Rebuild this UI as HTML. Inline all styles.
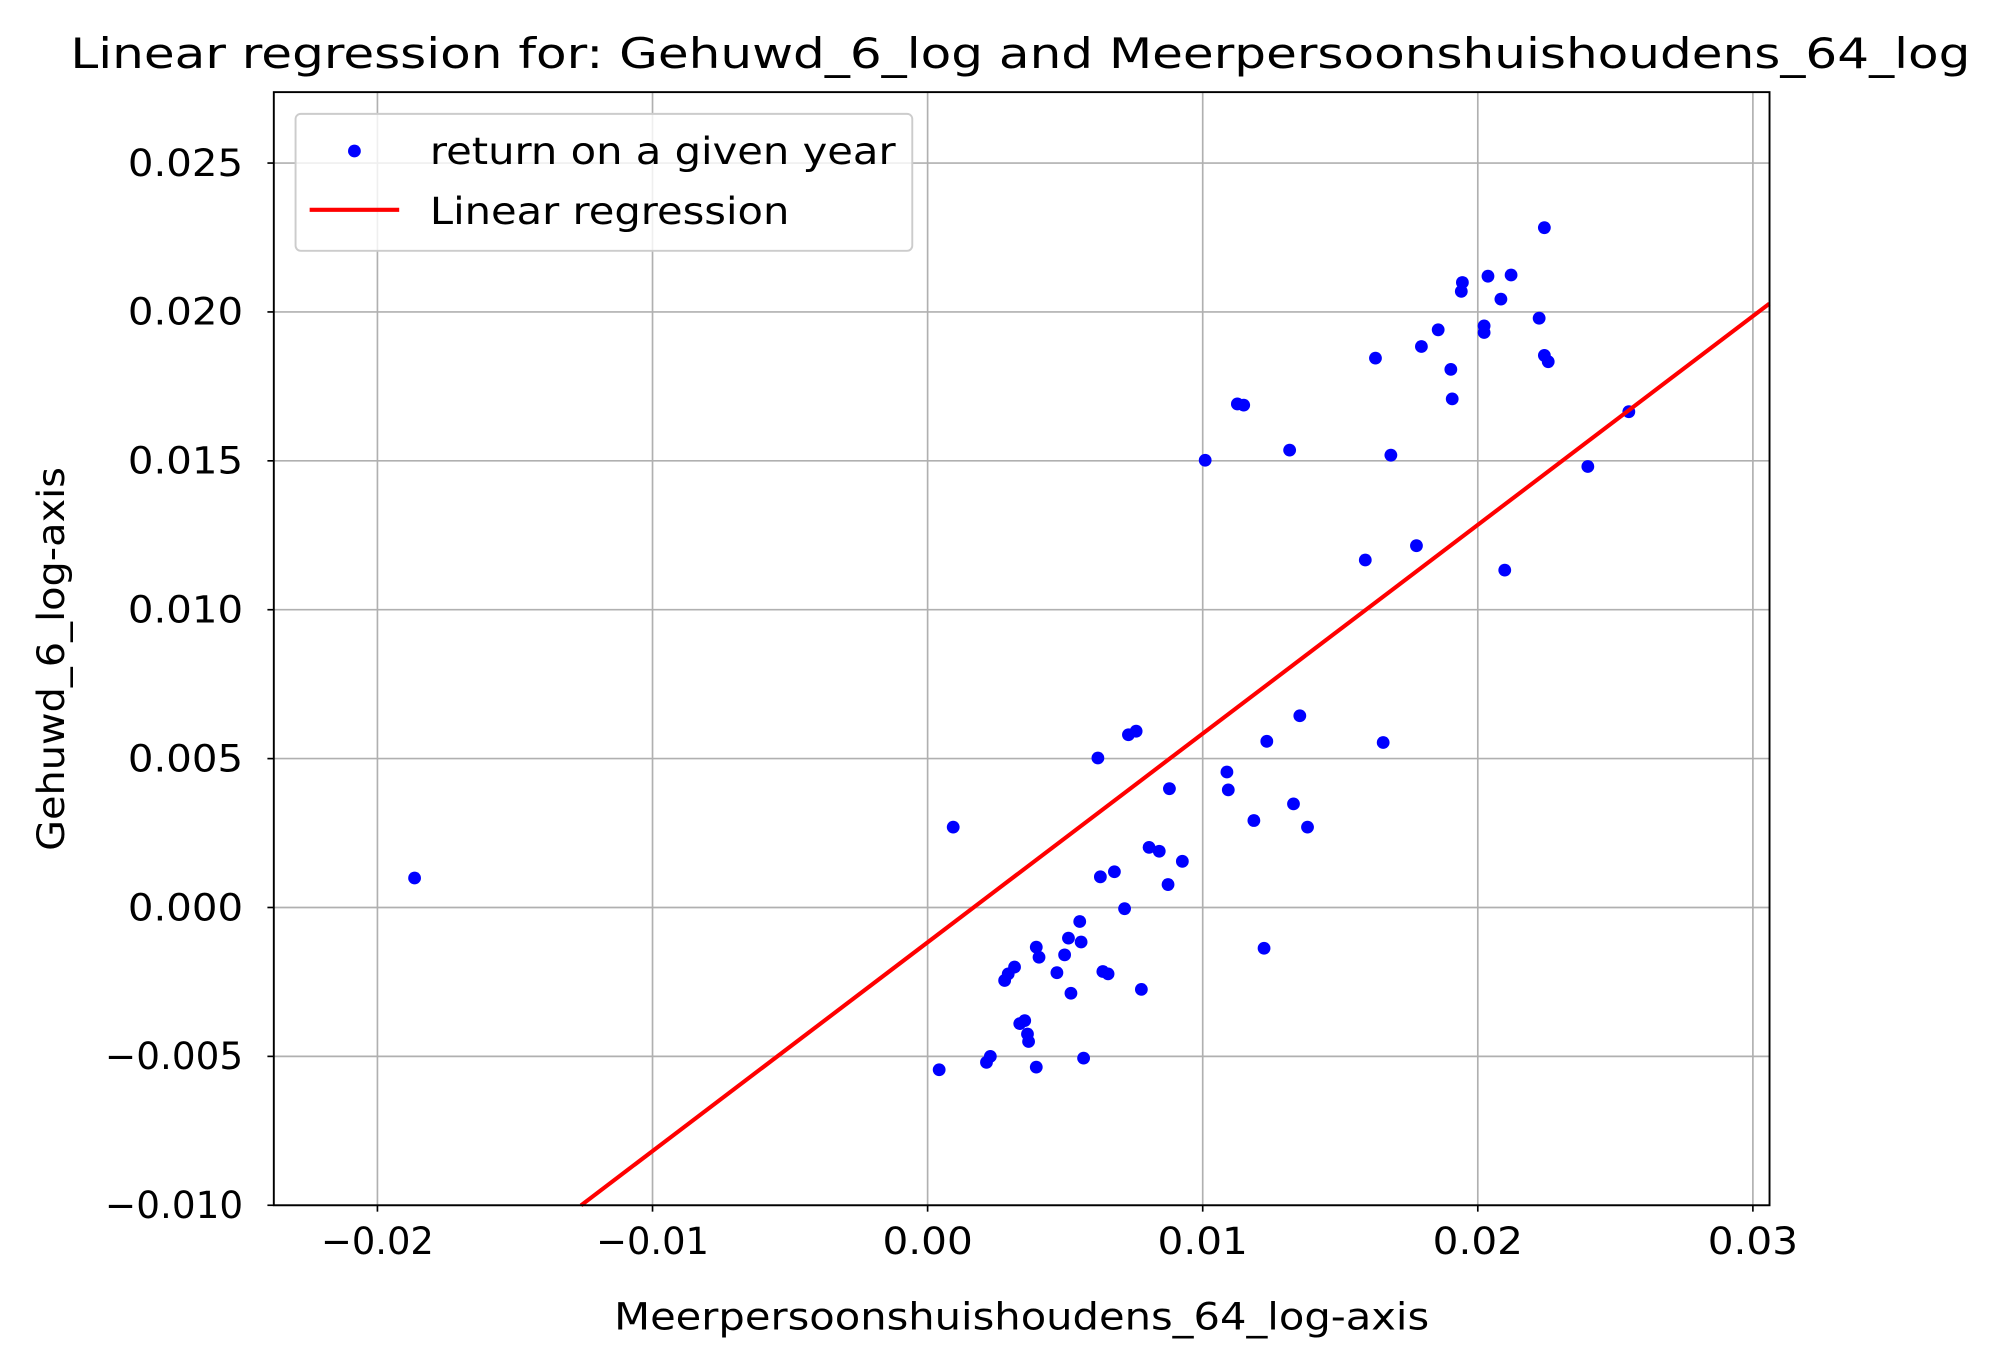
<!DOCTYPE html>
<html><head><meta charset="utf-8"><style>
html,body{margin:0;padding:0;background:#fff;}
svg{display:block;font-family:"DejaVu Sans","Liberation Sans",sans-serif;}
</style></head><body>
<svg id="chart" width="1996" height="1362" viewBox="0 0 1560 1064.5" preserveAspectRatio="none" xmlns="http://www.w3.org/2000/svg">
<rect x="0" y="0" width="1560" height="1064.5" fill="#fff"/>
<g id="grid"></g>
<g id="pts"></g>
<g id="reg"></g>
<rect x="214" y="72" width="1169" height="870" fill="none" stroke="#000" stroke-width="1.5"/>
<g id="ticks"></g>
<text x="55" y="53" font-size="33" textLength="1485" lengthAdjust="spacingAndGlyphs">Linear regression for: Gehuwd_6_log and Meerpersoonshuishoudens_64_log</text>
<text x="480" y="1039" font-size="29" textLength="637" lengthAdjust="spacingAndGlyphs">Meerpersoonshuishoudens_64_log-axis</text>
<text transform="translate(50,665) rotate(-90)" font-size="29" textLength="300" lengthAdjust="spacingAndGlyphs">Gehuwd_6_log-axis</text>
<g>
<rect x="231" y="89" width="482" height="107" rx="4" fill="#fff" fill-opacity="0.8" stroke="#ccc" stroke-width="1.5"/>
<circle cx="277" cy="118" r="5" fill="#0000ff"/>
<text x="336" y="128" font-size="29" textLength="364" lengthAdjust="spacingAndGlyphs">return on a given year</text>
<line x1="242" y1="164" x2="312" y2="164" stroke="#ff0000" stroke-width="3.2"/>
<text x="336" y="175" font-size="29" textLength="281" lengthAdjust="spacingAndGlyphs">Linear regression</text>
</g>
</svg>
<script>
const xs = [-0.01865,0.00093,0.00042,0.00214,0.00228,0.0028,0.00293,0.00316,0.00335,0.00353,0.00363,0.00367,0.00395,0.00395,0.00405,0.0047,0.00498,0.00512,0.00521,0.00553,0.00558,0.00567,0.00619,0.00628,0.00637,0.00656,0.00679,0.00716,0.0073,0.00758,0.00777,0.00805,0.00842,0.00874,0.00879,0.00926,0.01009,0.01088,0.01093,0.01126,0.01149,0.01186,0.01223,0.01233,0.01316,0.0133,0.01353,0.01381,0.01591,0.01628,0.01656,0.01684,0.01777,0.01795,0.01856,0.01902,0.01907,0.0194,0.01944,0.02023,0.02023,0.02037,0.02084,0.02098,0.02121,0.02223,0.02242,0.02256,0.02242,0.024,0.02549];
const ys = [0.00099,0.0027,-0.00545,-0.0052,-0.005,-0.00245,-0.00223,-0.002,-0.0039,-0.0038,-0.00425,-0.0045,-0.00536,-0.00133,-0.00167,-0.00219,-0.00159,-0.00103,-0.00288,-0.00047,-0.00116,-0.00506,0.00502,0.00103,-0.00215,-0.00223,0.0012,-0.00004,0.0058,0.00592,-0.00275,0.00202,0.00189,0.00077,0.00399,0.00155,0.01502,0.00455,0.00395,0.01691,0.01687,0.00292,-0.00137,0.00558,0.01536,0.00348,0.00644,0.0027,0.01167,0.01845,0.00554,0.01519,0.01215,0.01884,0.0194,0.01807,0.01708,0.02069,0.02099,0.01953,0.01931,0.0212,0.02043,0.01133,0.02124,0.01979,0.01854,0.01833,0.02283,0.01481,0.01665];
const xTicks = [-0.02,-0.01,0,0.01,0.02,0.03];
const xTickLabels = ["\u22120.02","\u22120.01","0.00","0.01","0.02","0.03"];
const yTicks = [-0.01,-0.005,0,0.005,0.01,0.015,0.02,0.025];
const yTickLabels = ["\u22120.010","\u22120.005","0.000","0.005","0.010","0.015","0.020","0.025"];
const regSlope = 0.701;
const regIntercept = -0.00117;
const regRange = [-0.0126, 0.0306];

const X0=214,X1=1383,Y0=72,Y1=942;
const xmin=-0.023767,xmax=0.030605,ymin=-0.010,ymax=0.027382;
const sx=v=>X0+(v-xmin)/(xmax-xmin)*(X1-X0);
const sy=v=>Y1-(v-ymin)/(ymax-ymin)*(Y1-Y0);
const CHARW=18;
const NS="http://www.w3.org/2000/svg";
function mk(tag,attrs,parent){const e=document.createElementNS(NS,tag);for(const k in attrs)e.setAttribute(k,attrs[k]);parent.appendChild(e);return e;}
const grid=document.getElementById('grid'),ticks=document.getElementById('ticks');
xTicks.forEach((t,i)=>{const x=sx(t);
 const g=mk('line',{x1:x,x2:x,y1:Y0,y2:Y1,stroke:'#b0b0b0','stroke-width':1.3},grid);
 
 
 mk('line',{x1:x,x2:x,y1:Y1,y2:Y1+5,stroke:'#000','stroke-width':1.3},ticks);
 const s=xTickLabels[i];
 const tx=mk('text',{x:x,y:Y1+38,'font-size':29,'text-anchor':'middle',textLength:s.length*CHARW*0.98,lengthAdjust:'spacingAndGlyphs'},ticks);tx.textContent=s;
 
 
});
yTicks.forEach((t,i)=>{const y=sy(t);
 const g=mk('line',{x1:X0,x2:X1,y1:y,y2:y,stroke:'#b0b0b0','stroke-width':1.3},grid);
 
 
 mk('line',{x1:X0-5,x2:X0,y1:y,y2:y,stroke:'#000','stroke-width':1.3},ticks);
 const s=yTickLabels[i];
 const tx=mk('text',{x:X0-24,y:y+10,'font-size':29,'text-anchor':'end',textLength:s.length*CHARW*1.0,lengthAdjust:'spacingAndGlyphs'},ticks);tx.textContent=s;
 
 
});
const pts=document.getElementById('pts');
xs.forEach((v,i)=>{const c=mk('circle',{cx:sx(v),cy:sy(ys[i]),r:5,fill:'#0000ff'},pts);
 
 
});
const reg=document.getElementById('reg');
const l=mk('line',{x1:sx(regRange[0]),y1:sy(regSlope*regRange[0]+regIntercept),x2:sx(regRange[1]),y2:sy(regSlope*regRange[1]+regIntercept),stroke:'#ff0000','stroke-width':3.2},reg);


</script>
</body></html>
